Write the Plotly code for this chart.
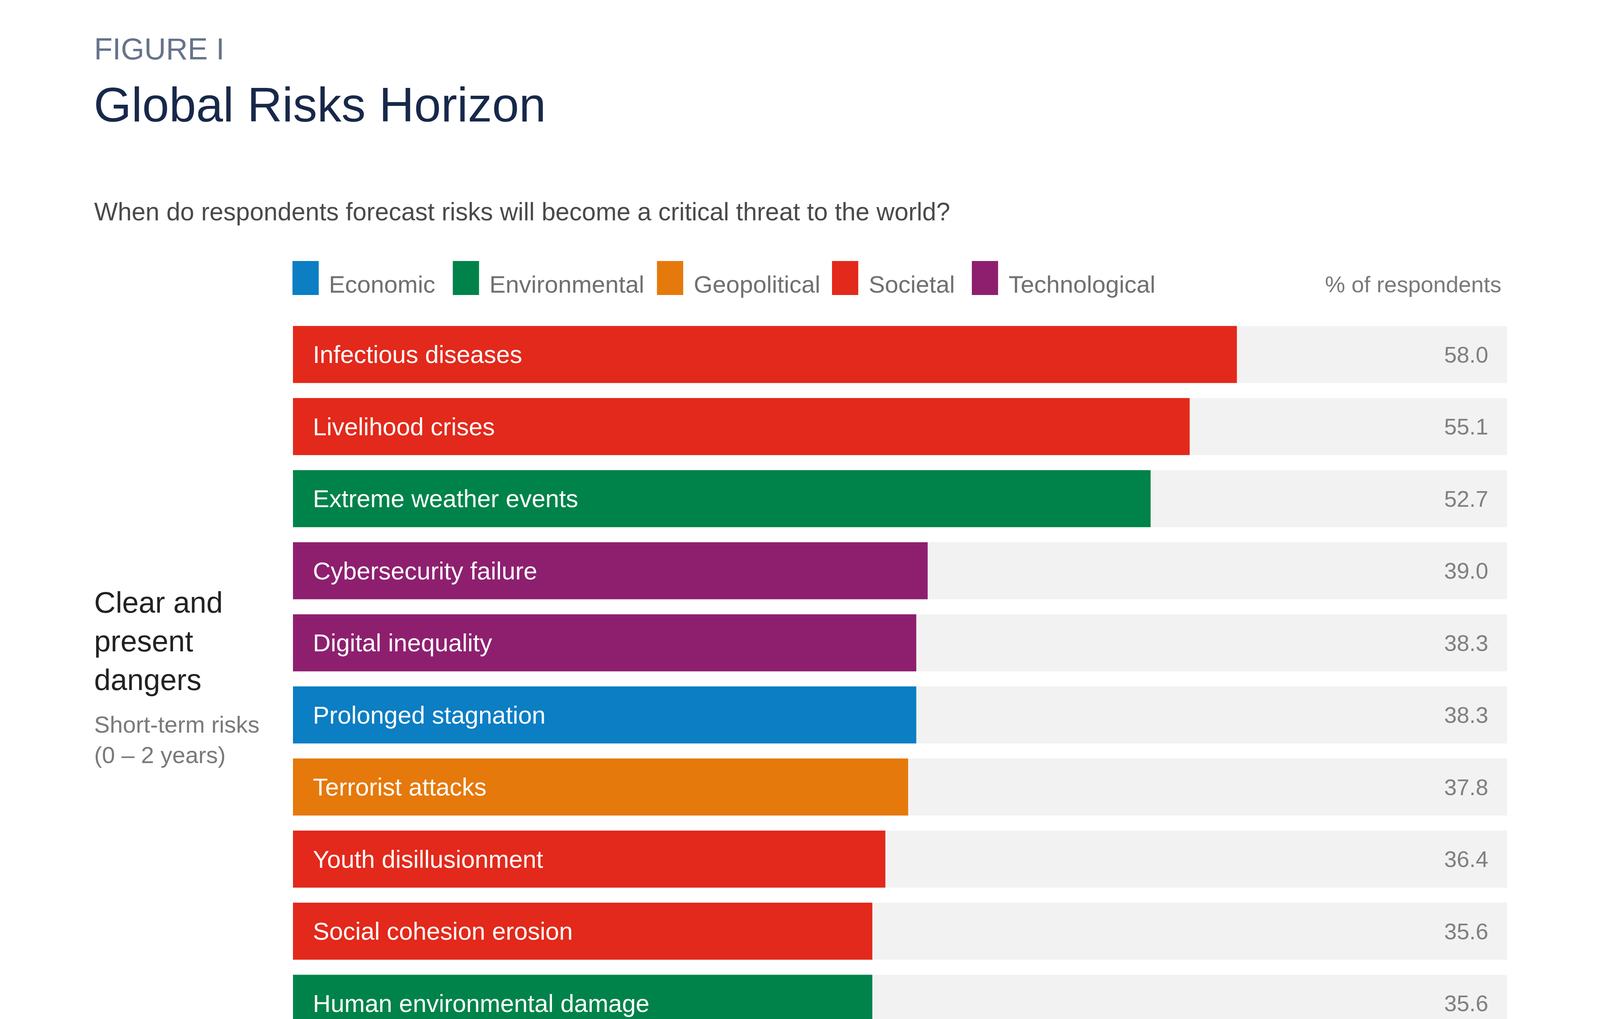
import plotly.graph_objs as go

# data
risks = ["Infectious diseases", "Livelihood crises", "Extreme weather events",
         "Cybersecurity failure", "Digital inequality", "Prolonged stagnation",
         "Terrorist attacks", "Youth disillusionment", "Social cohesion erosion",
         "Human environmental damage"]
values = [58.0, 55.1, 52.7, 39.0, 38.3, 38.3, 37.8, 36.4, 35.6, 35.6]
risk_category = ["Societal", "Societal", "Environmental", "Technological", "Technological",
                 "Economic", "Geopolitical", "Societal", "Societal", "Environmental"]
categories = ["Economic", "Environmental", "Geopolitical", "Societal", "Technological"]
track_max = 74.6  # grey track = full width of the scale

colors = {"Economic": "#0b7ec4", "Environmental": "#00834a", "Geopolitical": "#e5790b",
          "Societal": "#e2291b", "Technological": "#8e1f6f"}
FONT = "Liberation Sans, Arial, Helvetica, sans-serif"

# the browser viewport is 4096 wide, the page body has an 8px margin
SX = 4096 / 5000.0
OFF = 8
W, H = 4096 - OFF, 2608 - OFF


def fx(x):  # reference pixel -> figure pixel
    return x * SX - OFF


def fy(y):
    return y - OFF


L, R, T, B = round(fx(915)), round(W - fx(4710)), round(fy(815)), 0
ROW = 184.5  # pixel pitch of one row


def px(x):  # reference pixel -> paper coordinate
    return (fx(x) - L) / (W - L - R)


def py(y):
    return (H - B - fy(y)) / (H - T - B)


rows = list(range(len(risks)))

data = [go.Bar(
    x=[track_max] * len(risks), y=rows, orientation='h',
    marker=dict(color="#f2f2f2", line=dict(width=0)),
    width=0.79, showlegend=False, hoverinfo='skip',
)]
for cat in categories:
    idx = [i for i in rows if risk_category[i] == cat]
    data.append(go.Bar(
        x=[values[i] for i in idx], y=idx, orientation='h', name=cat,
        marker=dict(color=colors[cat], line=dict(width=0)),
        width=0.79, showlegend=False,
        hovertext=[risks[i] for i in idx],
    ))

annotations = []
for i in rows:
    annotations.append(dict(x=0, y=i, xref='x', yref='y', text=risks[i], showarrow=False,
                            xanchor='left', xshift=49, yanchor='middle',
                            font=dict(family=FONT, size=63, color="white")))
    annotations.append(dict(x=track_max, y=i, xref='x', yref='y', text="%.1f" % values[i],
                            showarrow=False, xanchor='right', xshift=-46, yanchor='middle',
                            font=dict(family=FONT, size=58, color="#808080")))

# header texts
annotations += [
    dict(x=px(292), y=py(125), xref='paper', yref='paper', text="FIGURE I", showarrow=False,
         xanchor='left', yanchor='middle', font=dict(family=FONT, size=77, color="#66738a")),
    dict(x=px(290), y=py(268), xref='paper', yref='paper', text="Global Risks Horizon",
         showarrow=False, xanchor='left', yanchor='middle',
         font=dict(family=FONT, size=124, color="#17284a")),
    dict(x=px(292), y=py(542), xref='paper', yref='paper',
         text="When do respondents forecast risks will become a critical threat to the world?",
         showarrow=False, xanchor='left', yanchor='middle',
         font=dict(family=FONT, size=64, color="#4a4a4a")),
    dict(x=px(4693), y=py(727), xref='paper', yref='paper', text="% of respondents",
         showarrow=False, xanchor='right', yanchor='middle',
         font=dict(family=FONT, size=58, color="#7a7a7a")),
    dict(x=px(292), y=py(1640), xref='paper', yref='paper', text="Clear and<br>present<br>dangers",
         showarrow=False, xanchor='left', yanchor='middle', align='left',
         font=dict(family=FONT, size=76, color="#222222")),
    dict(x=px(292), y=py(1893), xref='paper', yref='paper', text="Short-term risks<br>(0 – 2 years)",
         showarrow=False, xanchor='left', yanchor='middle', align='left',
         font=dict(family=FONT, size=60, color="#7a7a7a")),
]

# legend drawn by hand so the swatches can be as big as in the original
legend_x = [914, 1415, 2053, 2600, 3037]
shapes = []
for cat, lx in zip(categories, legend_x):
    shapes.append(dict(type='rect', xref='paper', yref='paper', x0=px(lx), x1=px(lx + 82),
                       y0=py(755), y1=py(668), fillcolor=colors[cat], line=dict(width=0)))
    annotations.append(dict(x=px(lx + 112), y=py(727), xref='paper', yref='paper', text=cat,
                            showarrow=False, xanchor='left', yanchor='middle',
                            font=dict(family=FONT, size=62, color="#707070")))

layout = go.Layout(
    width=W, height=H, autosize=False,
    margin=dict(l=L, r=R, t=T, b=B, pad=0),
    paper_bgcolor="white", plot_bgcolor="white",
    barmode='overlay',
    xaxis=dict(range=[0, track_max], visible=False, fixedrange=True),
    yaxis=dict(range=[-0.5 + (H - T - B) / ROW, -0.5], visible=False, fixedrange=True),
    annotations=annotations, shapes=shapes,
    hovermode='closest',
    font=dict(family=FONT),
)

fig = go.Figure(data=data, layout=layout)
fig.write_html("out.html")
